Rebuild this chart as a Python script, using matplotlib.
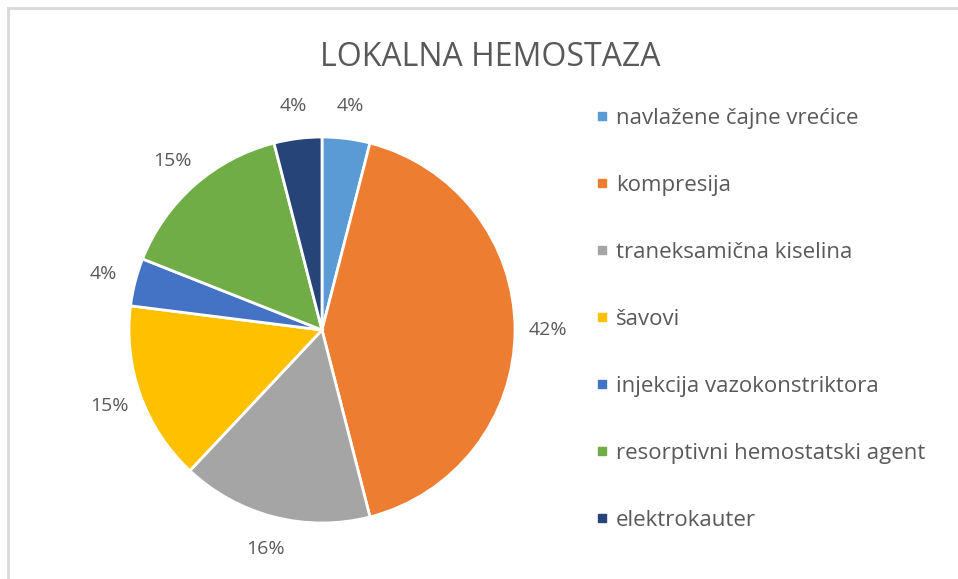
import matplotlib
matplotlib.use('Agg')
import matplotlib.pyplot as plt
from matplotlib.lines import Line2D

plt.rcParams['font.family'] = ['Open Sans', 'DejaVu Sans']

# Data
categories = ['navlažene čajne vrećice', 'kompresija', 'traneksamična kiselina',
              'šavovi', 'injekcija vazokonstriktora', 'resorptivni hemostatski agent',
              'elektrokauter']
values = [4, 42, 16, 15, 4, 15, 4]
colors = ['#5B9BD5', '#ED7D31', '#A5A5A5', '#FFC000', '#4472C4', '#70AD47', '#264478']

text_color = '#595959'
W, H = 958, 579
fig = plt.figure(figsize=(W / 100, H / 100), dpi=100)

# pie axes: centre ~(322, 330) px, radius ~193 px
cx, cy, r = 322, 330, 193
ax = fig.add_axes([(cx - r) / W, (H - cy - r) / H, 2 * r / W, 2 * r / H])
wedges, texts, autotexts = ax.pie(
    values, colors=colors, startangle=90, counterclock=False,
    autopct='%1.0f%%', pctdistance=1.17,
    wedgeprops=dict(edgecolor='white', linewidth=2),
    textprops=dict(color=text_color, fontsize=14))
ax.set_xlim(-1, 1)
ax.set_ylim(-1, 1)
ax.set_aspect('equal')
ax.axis('off')

fig.text(490 / W, 1 - 57 / H, 'LOKALNA HEMOSTAZA', ha='center', va='center',
         fontsize=23, color=text_color)

handles = [Line2D([], [], marker='s', linestyle='none', markersize=6,
                  markerfacecolor=c, markeredgecolor=c) for c in colors]
fig.legend(handles, categories, loc='upper left',
           bbox_to_anchor=(584 / W, 1 - 97 / H), frameon=False,
           fontsize=16, labelcolor=text_color, labelspacing=2.07,
           handlelength=0.6, handletextpad=0.35, borderpad=0)

# thin grey frame at top and left, as in the screenshot
fig.add_artist(Line2D([8 / W, 1], [1 - 8 / H, 1 - 8 / H], color='#D9D9D9', lw=2,
                      transform=fig.transFigure))
fig.add_artist(Line2D([8 / W, 8 / W], [0, 1 - 8 / H], color='#D9D9D9', lw=2,
                      transform=fig.transFigure))

fig.savefig('out.png', dpi=100)
